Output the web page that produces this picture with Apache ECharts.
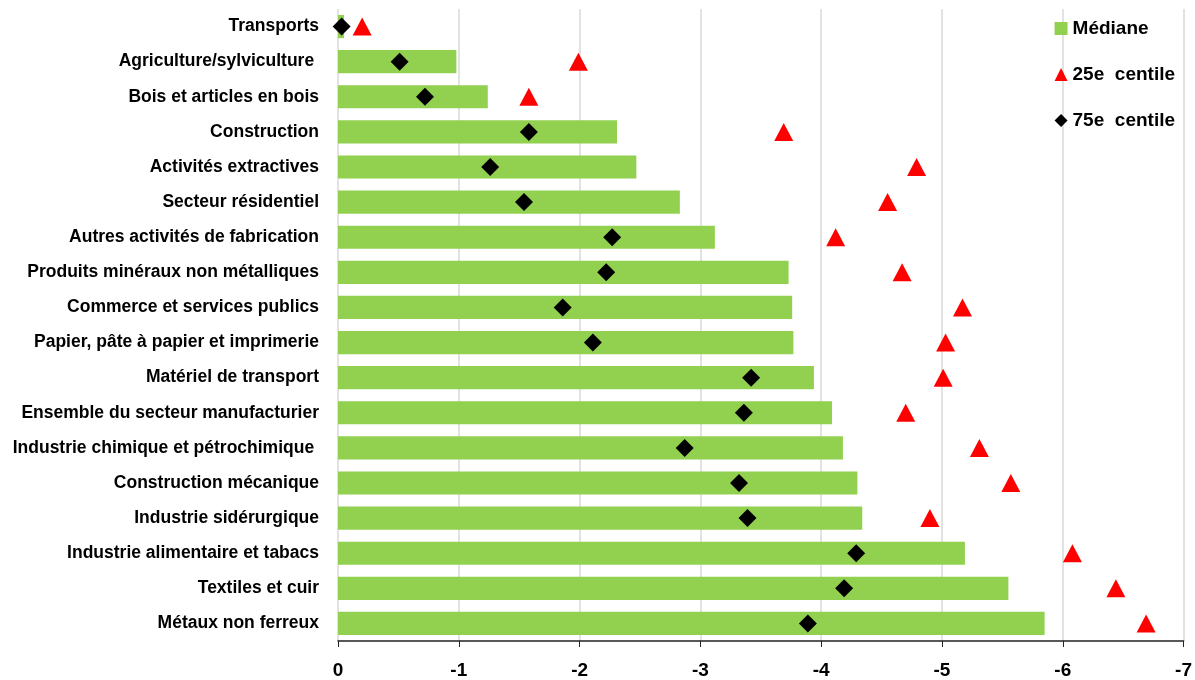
<!DOCTYPE html>
<html>
<head>
<meta charset="utf-8">
<script src="https://cdn.jsdelivr.net/npm/echarts@6/dist/echarts.min.js"></script>
<style>
  html, body { margin: 0; padding: 0; background: #fff; }
  #chart { width: 1195px; height: 680px; }
</style>
</head>
<body>
<div id="chart"></div>
<script>
// Sectors, top to bottom
const categories = [
  'Transports',
  'Agriculture/sylviculture ',
  'Bois et articles en bois',
  'Construction',
  'Activités extractives',
  'Secteur résidentiel',
  'Autres activités de fabrication',
  'Produits minéraux non métalliques',
  'Commerce et services publics',
  'Papier, pâte à papier et imprimerie',
  'Matériel de transport',
  'Ensemble du secteur manufacturier',
  'Industrie chimique et pétrochimique ',
  'Construction mécanique',
  'Industrie sidérurgique',
  'Industrie alimentaire et tabacs',
  'Textiles et cuir',
  'Métaux non ferreux'
];

// Median (bars)
const mediane = [-0.05, -0.98, -1.24, -2.31, -2.47, -2.83, -3.12, -3.73, -3.76, -3.77,
                 -3.94, -4.09, -4.18, -4.30, -4.34, -5.19, -5.55, -5.85];
// 25th percentile (red triangles)
const centile25 = [-0.20, -1.99, -1.58, -3.69, -4.79, -4.55, -4.12, -4.67, -5.17, -5.03,
                   -5.01, -4.70, -5.31, -5.57, -4.90, -6.08, -6.44, -6.69];
// 75th percentile (black diamonds)
const centile75 = [-0.03, -0.51, -0.72, -1.58, -1.26, -1.54, -2.27, -2.22, -1.86, -2.11,
                   -3.42, -3.36, -2.87, -3.32, -3.39, -4.29, -4.19, -3.89];

const FONT = '"Liberation Sans Narrow", "Liberation Sans", Arial, sans-serif';

const chart = echarts.init(document.getElementById('chart'), null, { renderer: 'canvas' });
chart.setOption({
  animation: false,
  textStyle: { fontFamily: FONT },
  grid: { left: 338, right: 9, top: 9, bottom: 39, containLabel: false },
  legend: {
    orient: 'vertical',
    right: 15,
    top: 14,
    itemGap: 27,
    itemWidth: 13,
    itemHeight: 13,
    textStyle: { fontFamily: FONT, fontWeight: 'bold', fontSize: 19, color: '#000' },
    data: [
      { name: 'Médiane', icon: 'rect' },
      { name: '25e  centile', icon: 'triangle' },
      { name: '75e  centile', icon: 'diamond' }
    ]
  },
  xAxis: {
    type: 'value',
    min: -7,
    max: 0,
    interval: 1,
    inverse: true,
    axisLine: { show: true, lineStyle: { color: '#222', width: 1.5 } },
    axisTick: { show: true, length: 6, lineStyle: { color: '#222' } },
    splitLine: { show: true, lineStyle: { color: '#d9d9d9', width: 1.5 } },
    axisLabel: {
      fontFamily: FONT, fontWeight: 'bold', fontSize: 19, color: '#000', margin: 20,
      formatter: v => (v === 0 ? '0' : String(v))
    }
  },
  yAxis: {
    type: 'category',
    data: categories,
    inverse: true,
    axisLine: { show: false },
    axisTick: { show: false },
    splitLine: { show: false },
    axisLabel: {
      fontFamily: FONT, fontWeight: 'bold', fontSize: 17.5, color: '#000', margin: 19
    }
  },
  series: [
    {
      name: 'Médiane',
      type: 'bar',
      data: mediane,
      barCategoryGap: '34%',
      itemStyle: { color: '#92D050' },
      z: 2
    },
    {
      name: '25e  centile',
      type: 'scatter',
      data: centile25,
      symbol: 'triangle',
      symbolSize: [19, 18],
      itemStyle: { color: '#FF0000', opacity: 1 },
      z: 3
    },
    {
      name: '75e  centile',
      type: 'scatter',
      data: centile75,
      symbol: 'diamond',
      symbolSize: [18, 18],
      itemStyle: { color: '#000', opacity: 1 },
      z: 4
    }
  ]
});
</script>
</body>
</html>
